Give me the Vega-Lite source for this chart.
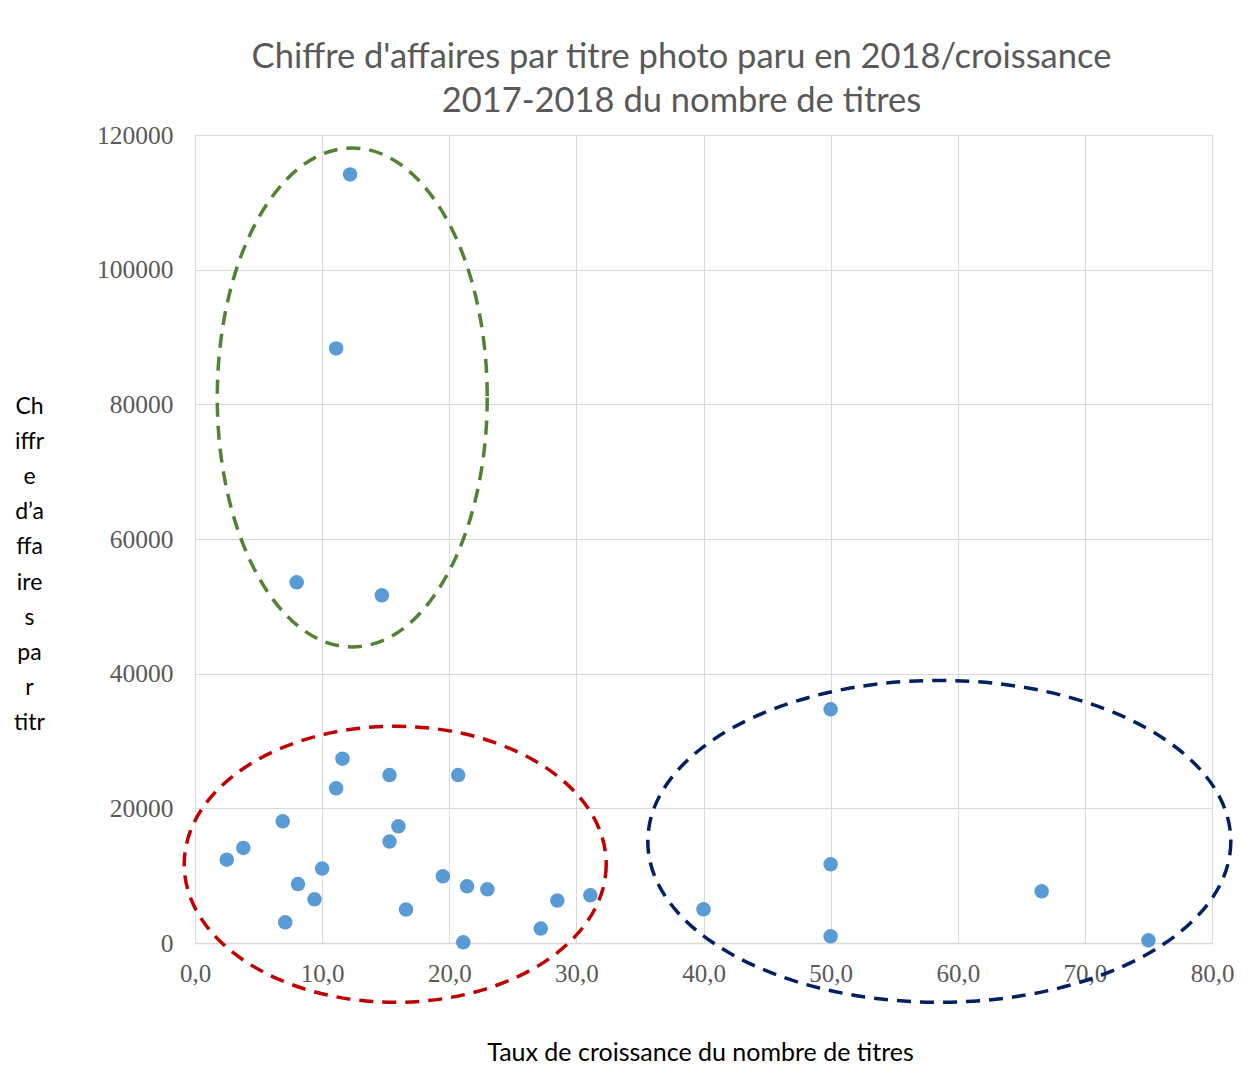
{
  "$schema": "https://vega.github.io/schema/vega-lite/v6.json",
  "autosize": {"type": "none"},
  "padding": {"left": 195, "top": 135, "right": 45, "bottom": 123},
  "width": 1017,
  "height": 808,
  "background": "white",
  "title": {
    "text": ["Chiffre d'affaires par titre photo paru en 2018/croissance", "2017-2018 du nombre de titres"],
    "anchor": "middle",
    "frame": "group",
    "dx": -22,
    "font": "Lato",
    "fontSize": 34.5,
    "fontWeight": "normal",
    "color": "#595959",
    "lineHeight": 44,
    "offset": 4
  },
  "datasets": {
    "pts": [
      {"x": 12.2, "y": 114140},
      {"x": 11.1, "y": 88300},
      {"x": 8.0, "y": 53560},
      {"x": 14.7, "y": 51630},
      {"x": 50.0, "y": 34700},
      {"x": 11.6, "y": 27380},
      {"x": 15.3, "y": 24940},
      {"x": 20.7, "y": 24940},
      {"x": 11.1, "y": 22970},
      {"x": 6.9, "y": 18070},
      {"x": 16.0, "y": 17330},
      {"x": 15.3, "y": 15060},
      {"x": 3.8, "y": 14110},
      {"x": 2.5, "y": 12380},
      {"x": 10.0, "y": 11050},
      {"x": 50.0, "y": 11690},
      {"x": 19.5, "y": 9900},
      {"x": 8.1, "y": 8760},
      {"x": 21.4, "y": 8420},
      {"x": 23.0, "y": 7970},
      {"x": 66.6, "y": 7680},
      {"x": 9.4, "y": 6490},
      {"x": 31.1, "y": 7080},
      {"x": 28.5, "y": 6300},
      {"x": 16.6, "y": 4960},
      {"x": 40.0, "y": 5000},
      {"x": 7.1, "y": 3070},
      {"x": 27.2, "y": 2140},
      {"x": 50.0, "y": 1000},
      {"x": 21.1, "y": 100},
      {"x": 75.0, "y": 400}
    ],
    "ellipses": [
      {"grp": "green", "cx": 12.37, "cy": 81020},
      {"grp": "red", "cx": 15.75, "cy": 11690},
      {"grp": "blue", "cx": 58.55, "cy": 15100}
    ]
  },
  "layer": [
    {
      "data": {"name": "pts"},
      "mark": {"type": "circle", "color": "#5B9BD5", "opacity": 1, "size": 210},
      "encoding": {
        "x": {
          "field": "x", "type": "quantitative",
          "scale": {"domain": [0, 80], "nice": false, "zero": false},
          "axis": {
            "values": [0, 10, 20, 30, 40, 50, 60, 70, 80],
            "labelExpr": "replace(format(datum.value, '.1f'), '.', ',')",
            "labelFlush": false,
            "grid": true, "gridColor": "#D9D9D9", "gridWidth": 1,
            "domainColor": "#D9D9D9", "domainWidth": 1.5,
            "ticks": false,
            "labelFont": "Liberation Serif", "labelFontSize": 25, "labelColor": "#595959",
            "labelPadding": 18,
            "title": "Taux de croissance du nombre de titres",
            "titleFont": "Lato", "titleFontSize": 25, "titleFontWeight": "normal", "titleColor": "#000000",
            "titleBaseline": "top", "titleX": 505, "titleY": 97, "titleAnchor": "middle"
          }
        },
        "y": {
          "field": "y", "type": "quantitative",
          "scale": {"domain": [0, 120000], "nice": false, "zero": false},
          "axis": {
            "values": [0, 20000, 40000, 60000, 80000, 100000, 120000],
            "format": "d",
            "grid": true, "gridColor": "#D9D9D9", "gridWidth": 1,
            "domain": false,
            "ticks": false,
            "labelFont": "Liberation Serif", "labelFontSize": 25.5, "labelColor": "#595959",
            "labelPadding": 22,
            "title": ["Ch", "iffr", "e", "d’a", "ffa", "ire", "s", "pa", "r", "titr"],
            "titleFont": "Lato", "titleFontSize": 23, "titleFontWeight": "normal", "titleColor": "#000000",
            "titleAngle": 0, "titleAlign": "center", "titleBaseline": "top",
            "titleLineHeight": 35.2,
            "titleX": -166, "titleY": 260
          }
        }
      }
    },
    {
      "data": {"name": "ellipses"},
      "transform": [{"filter": "datum.grp === 'green'"}],
      "mark": {
        "type": "point", "filled": false, "stroke": "#548235", "strokeWidth": 3.5,
        "strokeDash": [14, 9], "opacity": 1, "size": 249001,
        "shape": "M 0.541 0 C 0.541 0.5523 0.2988 1 0 1 C -0.2988 1 -0.541 0.5523 -0.541 0 C -0.541 -0.5523 -0.2988 -1 0 -1 C 0.2988 -1 0.541 -0.5523 0.541 0 Z"
      },
      "encoding": {
        "x": {"field": "cx", "type": "quantitative"},
        "y": {"field": "cy", "type": "quantitative"}
      }
    },
    {
      "data": {"name": "ellipses"},
      "transform": [{"filter": "datum.grp === 'red'"}],
      "mark": {
        "type": "point", "filled": false, "stroke": "#C00000", "strokeWidth": 3.5,
        "strokeDash": [14, 9], "opacity": 1, "size": 178084,
        "shape": "M 1 0 C 1 0.3612 0.5523 0.654 0 0.654 C -0.5523 0.654 -1 0.3612 -1 0 C -1 -0.3612 -0.5523 -0.654 0 -0.654 C 0.5523 -0.654 1 -0.3612 1 0 Z"
      },
      "encoding": {
        "x": {"field": "cx", "type": "quantitative"},
        "y": {"field": "cy", "type": "quantitative"}
      }
    },
    {
      "data": {"name": "ellipses"},
      "transform": [{"filter": "datum.grp === 'blue'"}],
      "mark": {
        "type": "point", "filled": false, "stroke": "#002060", "strokeWidth": 3.5,
        "strokeDash": [14, 9], "opacity": 1, "size": 339889,
        "shape": "M 1 0 C 1 0.3049 0.5523 0.552 0 0.552 C -0.5523 0.552 -1 0.3049 -1 0 C -1 -0.3049 -0.5523 -0.552 0 -0.552 C 0.5523 -0.552 1 -0.3049 1 0 Z"
      },
      "encoding": {
        "x": {"field": "cx", "type": "quantitative"},
        "y": {"field": "cy", "type": "quantitative"}
      }
    }
  ],
  "config": {
    "view": {"stroke": "#D9D9D9"}
  }
}
